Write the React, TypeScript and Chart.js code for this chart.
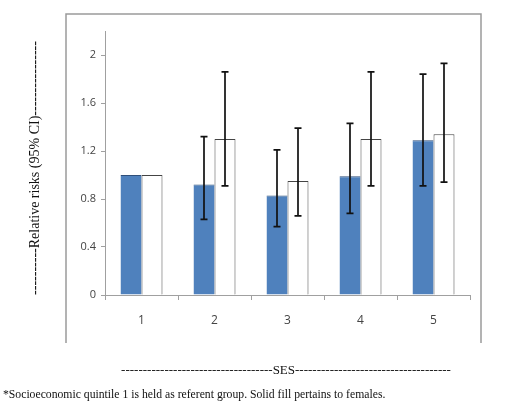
import React, { useEffect, useRef } from "react";
import { Chart, registerables } from "chart.js";

Chart.register(...registerables);

const categories = ["1", "2", "3", "4", "5"];
const femaleValues = [1.0, 0.92, 0.83, 0.99, 1.29];
const femaleLower = [1.0, 0.63, 0.57, 0.68, 0.91];
const femaleUpper = [1.0, 1.32, 1.21, 1.43, 1.84];
const maleValues = [1.0, 1.3, 0.95, 1.3, 1.34];
const maleLower = [1.0, 0.91, 0.66, 0.91, 0.94];
const maleUpper = [1.0, 1.86, 1.39, 1.86, 1.93];
const yTicks = [0, 0.4, 0.8, 1.2, 1.6, 2];
const yTitle = "----------Relative risks (95% CI)----------------";
const xTitle = "-----------------------------------SES------------------------------------";
const footnote = "*Socioeconomic quintile 1 is held as referent group. Solid fill pertains to females.";

export default function App() {
  const ref = useRef<HTMLCanvasElement | null>(null);
  useEffect(() => {
    if (!ref.current) return;
    const errorBars = {
      id: "errorBars",
      afterDatasetsDraw(chart: any) {
        const ctx = chart.ctx;
        const y = chart.scales.y;
        const sets = [
          { lo: femaleLower, hi: femaleUpper },
          { lo: maleLower, hi: maleUpper },
        ];
        ctx.save();
        ctx.strokeStyle = "#111";
        ctx.lineWidth = 1.7;
        sets.forEach((s, di) => {
          const meta = chart.getDatasetMeta(di);
          meta.data.forEach((bar: any, i: number) => {
            if (s.lo[i] === s.hi[i]) return;
            const x = Math.round(bar.x);
            const yl = y.getPixelForValue(s.lo[i]);
            const yh = y.getPixelForValue(s.hi[i]);
            ctx.beginPath();
            ctx.moveTo(x, yl);
            ctx.lineTo(x, yh);
            ctx.moveTo(x - 3.5, yl);
            ctx.lineTo(x + 3.5, yl);
            ctx.moveTo(x - 3.5, yh);
            ctx.lineTo(x + 3.5, yh);
            ctx.stroke();
          });
        });
        ctx.restore();
      },
    };
    const decorations = {
      id: "decorations",
      afterDraw(chart: any) {
        const ctx = chart.ctx;
        ctx.save();
        // outer box
        ctx.strokeStyle = "#9a9a9a";
        ctx.lineWidth = 1.5;
        ctx.beginPath();
        ctx.moveTo(66, 343);
        ctx.lineTo(66, 14);
        ctx.lineTo(481, 14);
        ctx.lineTo(481, 343);
        ctx.stroke();
        // y title
        ctx.fillStyle = "#111";
        ctx.font = "14px 'Liberation Serif', 'Times New Roman', serif";
        ctx.textAlign = "center";
        ctx.textBaseline = "middle";
        ctx.save();
        ctx.translate(35, 168);
        ctx.rotate(-Math.PI / 2);
        ctx.fillText(yTitle, 0, 0);
        ctx.restore();
        // x title
        ctx.font = "13px 'Liberation Serif', 'Times New Roman', serif";
        ctx.fillText(xTitle, 286, 371);
        // footnote
        ctx.font = "11.7px 'Liberation Serif', 'Times New Roman', serif";
        ctx.textAlign = "left";
        ctx.fillText(footnote, 3, 395);
        ctx.restore();
      },
    };
    const chart = new Chart(ref.current, {
      type: "bar",
      data: {
        labels: categories,
        datasets: [
          {
            label: "Females",
            data: femaleValues,
            backgroundColor: "#4F81BD",
            borderColor: "#2f4f7a",
            borderWidth: { top: 1, left: 0, right: 0, bottom: 0 },
            categoryPercentage: 0.575,
            barPercentage: 1,
          },
          {
            label: "Males",
            data: maleValues,
            backgroundColor: "#ffffff",
            borderColor: "#444444",
            borderWidth: 1,
            categoryPercentage: 0.575,
            barPercentage: 1,
          },
        ],
      },
      options: {
        animation: false,
        responsive: false,
        maintainAspectRatio: false,
        layout: { padding: { left: 60, right: 40, top: 31, bottom: 76 } },
        plugins: { legend: { display: false }, tooltip: { enabled: false } },
        scales: {
          x: {
            offset: true,
            grid: {
              display: true,
              offset: true,
              drawOnChartArea: false,
              tickLength: 5,
              color: "#a0a0a0",
            },
            border: { color: "#a0a0a0", width: 1 },
            ticks: {
              color: "#444",
              font: { family: "'Open Sans', sans-serif", size: 12 },
              padding: 13,
            },
            afterFit(scale: any) {
              scale.height = 40;
            },
          },
          y: {
            min: 0,
            max: 2.2,
            grid: {
              display: true,
              drawOnChartArea: false,
              tickLength: 4,
              color: "#a0a0a0",
            },
            border: { color: "#a0a0a0", width: 1 },
            ticks: {
              color: "#444",
              font: { family: "'Open Sans', sans-serif", size: 11 },
              padding: 5,
              callback: (v: any) => String(Math.round(Number(v) * 10) / 10),
            },
            afterBuildTicks(scale: any) {
              scale.ticks = yTicks.map((v) => ({ value: v }));
            },
            afterFit(scale: any) {
              scale.width = 45;
            },
          },
        },
      },
      plugins: [errorBars, decorations],
    });
    return () => chart.destroy();
  }, []);
  return (
    <div style={{ position: "absolute", left: 0, top: 0, width: 510, height: 411, background: "#fff" }}>
      <canvas ref={ref} width={510} height={411} style={{ width: 510, height: 411, display: "block" }} />
    </div>
  );
}
